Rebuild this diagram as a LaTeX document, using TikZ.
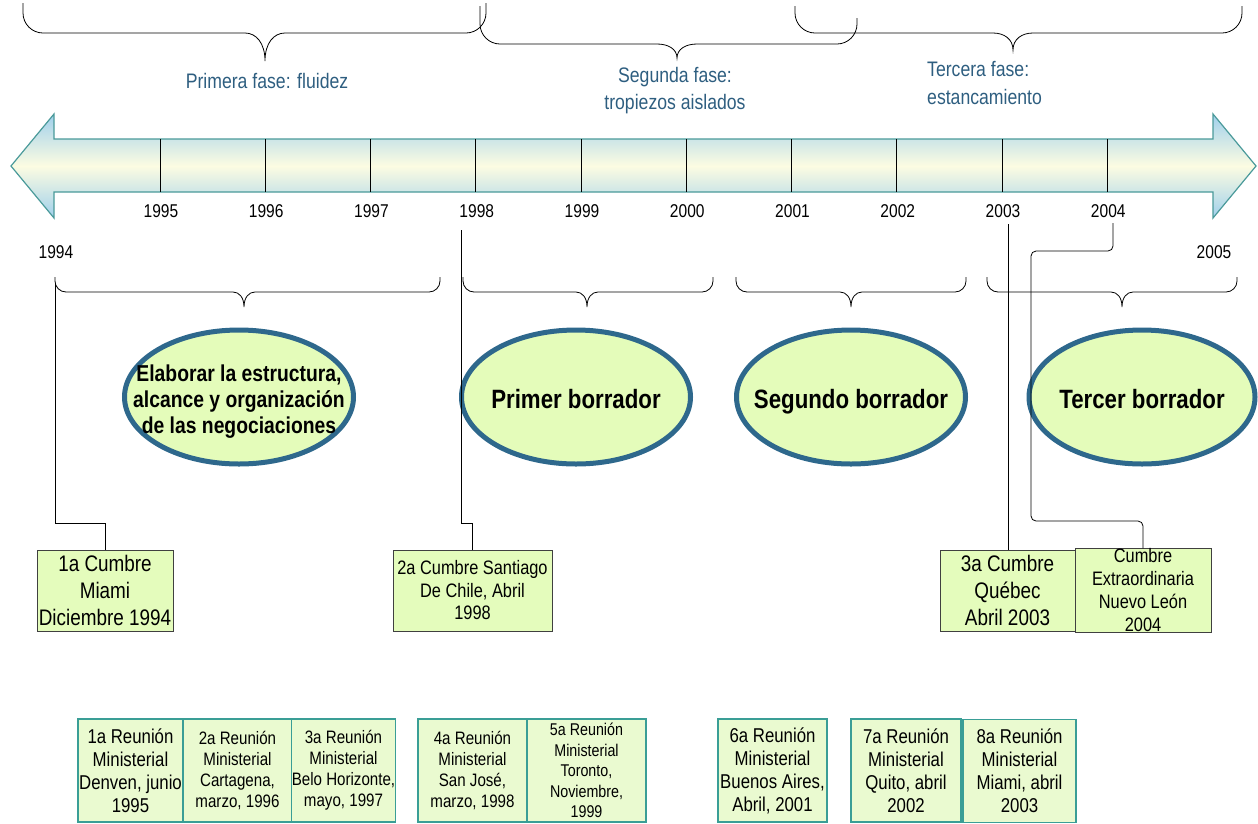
\documentclass[tikz,border=0pt]{standalone}
\usepackage{fontspec}
\setmainfont{Liberation Sans}[FakeStretch=0.84]
\usetikzlibrary{shapes.geometric}

\definecolor{phaseblue}{RGB}{46,94,128}
\definecolor{arrowedge}{RGB}{74,154,154}
\definecolor{arrowblue}{RGB}{160,208,236}
\definecolor{arrowcream}{RGB}{252,252,226}
\definecolor{ellborder}{RGB}{46,104,140}
\definecolor{ellfill}{RGB}{228,252,186}
\definecolor{summitfill}{RGB}{228,252,188}
\definecolor{meetfill}{RGB}{234,250,208}
\definecolor{meetedge}{RGB}{58,158,150}

% curly brace lying on its back: ends up, point down
% #1 left x, #2 right x, #3 point x, #4 left top y, #5 right top y,
% #6 bar y, #7 point y, #8 corner radius
\newcommand\phasebrace[8]{%
  \draw[bracestyle] (#1,#4) -- ({#1},{#6-#8})
    .. controls ({#1},{#6-0.45*#8}) and ({#1+0.45*#8},{#6}) .. ({#1+#8},{#6})
    -- ({#3-#8},{#6})
    .. controls ({#3-0.45*#8},{#6}) and ({#3},{#6+0.35*(#7-#6)}) .. ({#3},{#7})
    .. controls ({#3},{#6+0.35*(#7-#6)}) and ({#3+0.45*#8},{#6}) .. ({#3+#8},{#6})
    -- ({#2-#8},{#6})
    .. controls ({#2-0.45*#8},{#6}) and ({#2},{#6-0.45*#8}) .. ({#2},{#6-#8})
    -- (#2,#5);}

\begin{document}
\begin{tikzpicture}[x=1pt,y=-1pt,
  bracestyle/.style={draw=black, line width=0.8pt},
  tick/.style={draw=black, line width=0.8pt},
  link/.style={draw=black, line width=0.8pt},
  year/.style={font=\fontsize{18.5}{20}\selectfont, inner sep=0pt},
  phase/.style={text=phaseblue, font=\fontsize{21}{27}\selectfont, inner sep=0pt},
  draft/.style={ellipse, draw=ellborder, line width=5pt, fill=ellfill,
    minimum width=229pt, minimum height=134pt, inner sep=0pt},
  drafttext/.style={font=\bfseries\fontsize{26.5}{28}\selectfont, align=center, inner sep=0pt},
  titlebase/.style={drafttext, anchor=base},
  summit/.style={rectangle, draw=black!75, line width=0.9pt, fill=summitfill,
    minimum height=81pt, align=center, inner sep=0pt},
  meeting/.style={rectangle, draw=meetedge, line width=1.1pt, fill=meetfill,
    minimum height=103pt, align=center, inner sep=0pt}
]
\useasboundingbox (0,0) rectangle (1258,823);

% the time line arrow
\path[draw=arrowedge, line width=1.2pt, top color=arrowblue, bottom color=arrowblue,
      middle color=arrowcream]
  (11,166) -- (54,114) -- (54,139) -- (1213,139) -- (1213,114) -- (1256,166)
  -- (1213,218) -- (1213,192) -- (54,192) -- (54,218) -- cycle;

% year ticks and labels
\foreach \i [evaluate=\i as \yr using int(1995+\i)] in {0,...,9}{
  \draw[tick] ({160+105.25*\i},139) -- ({160+105.25*\i},192);
  \node[year] (y\yr) at ({161+105.25*\i},211) {\yr};
}
\node[year] (y1994) at (56,252) {1994};
\node[year] (y2005) at (1214,252) {2005};

% phases
\phasebrace{23}{486}{265}{3}{3}{33}{61}{20}
\phasebrace{480}{857}{677}{6}{18}{44}{58}{20}
\phasebrace{795}{1242}{1013}{6}{6}{33}{50}{20}
\node[phase] (p1) at (267,81) {Primera fase: fluidez};
\node[phase, align=center] (p2) at (675,91) {Segunda fase:\\tropiezos aislados};
\node[phase, align=left, anchor=west, font=\fontsize{21}{28}\selectfont] (p3) at (927,83)
  {Tercera fase:\\estancamiento};

% draft braces
\phasebrace{55}{440}{244}{277}{277}{292}{307}{11}
\phasebrace{463}{713}{587}{277}{277}{292}{307}{11}
\phasebrace{736}{966}{851}{277}{277}{292}{307}{11}
\phasebrace{987}{1237}{1122}{277}{277}{292}{307}{11}

% drafts
\node[draft] (e1) at (239,397) {};
\node[drafttext, font=\bfseries\fontsize{23}{26}\selectfont] at ([yshift=-5pt]e1.center)
  {Elaborar la estructura,\\alcance y organización\\de las negociaciones};
\node[draft] (e2) at (576,397) {};
\node[titlebase] at ([yshift=-11pt]e2.center) {Primer borrador};
\node[draft] (e3) at (851,397) {};
\node[titlebase] at ([yshift=-11pt]e3.center) {Segundo borrador};
\node[draft, minimum width=226pt] (e4) at (1142,397) {};
\node[titlebase] at ([yshift=-11pt]e4.center) {Tercer borrador};

% summits
\node[summit, minimum width=136pt, font=\fontsize{22.5}{27}\selectfont] (s1) at (105,590.5)
  {1a Cumbre\\Miami\\Diciembre 1994};
\node[summit, minimum width=159pt, font=\fontsize{19.5}{22.5}\selectfont] (s2) at (472.5,590.5)
  {2a Cumbre Santiago\\De Chile, Abril\\1998};
\node[summit, minimum width=135pt, font=\fontsize{22.5}{27}\selectfont] (s3) at (1007.5,590.5)
  {3a Cumbre\\Québec\\Abril 2003};
\node[summit, minimum width=136pt, font=\fontsize{19.5}{23}\selectfont] (s4) at (1143,590.5)
  {Cumbre\\Extraordinaria\\Nuevo León\\2004};

% links from years to summits
\coordinate (k1) at (55,283);
\coordinate (k2) at (461,230);
\coordinate (k3) at (1008,224);
\coordinate (k4) at (1113,223);
\draw[link] (k1) -- (55,523) -| (s1.north);
\draw[link] (k2) -- (461,523) -| (s2.north);
\draw[link] (k3) -- (k3 |- s3.north);
\draw[link, rounded corners=5pt] (k4) -- (1113,251) -- (1031,251) -- (1031,521) -| (s4.north);

% ministerial meetings
\node[meeting, minimum width=105pt, font=\fontsize{20}{23}\selectfont] (m1) at (130.5,770.5)
  {1a Reunión\\Ministerial\\Denven, junio\\1995};
\node[meeting, minimum width=109pt, font=\fontsize{18}{21}\selectfont] (m2) at (237.5,770.5)
  {2a Reunión\\Ministerial\\Cartagena,\\marzo, 1996};
\node[meeting, minimum width=103pt, font=\fontsize{18}{21}\selectfont] (m3) at (343.5,770.5)
  {3a Reunión\\Ministerial\\Belo Horizonte,\\mayo, 1997};
\node[meeting, minimum width=109pt, font=\fontsize{18}{21}\selectfont] (m4) at (472.5,770.5)
  {4a Reunión\\Ministerial\\San José,\\marzo, 1998};
\node[meeting, minimum width=119pt, font=\fontsize{17}{20.5}\selectfont] (m5) at (586.5,770.5)
  {5a Reunión\\Ministerial\\Toronto,\\Noviembre,\\1999};
\node[meeting, minimum width=109pt, font=\fontsize{20}{23}\selectfont] (m6) at (772.5,770.5)
  {6a Reunión\\Ministerial\\Buenos Aires,\\Abril, 2001};
\node[meeting, minimum width=110pt, font=\fontsize{20}{23}\selectfont] (m7) at (906,770.5)
  {7a Reunión\\Ministerial\\Quito, abril\\2002};
\node[meeting, minimum width=113pt, font=\fontsize{20}{23}\selectfont] (m8) at (1019.5,771)
  {8a Reunión\\Ministerial\\Miami, abril\\2003};
\end{tikzpicture}
\end{document}
